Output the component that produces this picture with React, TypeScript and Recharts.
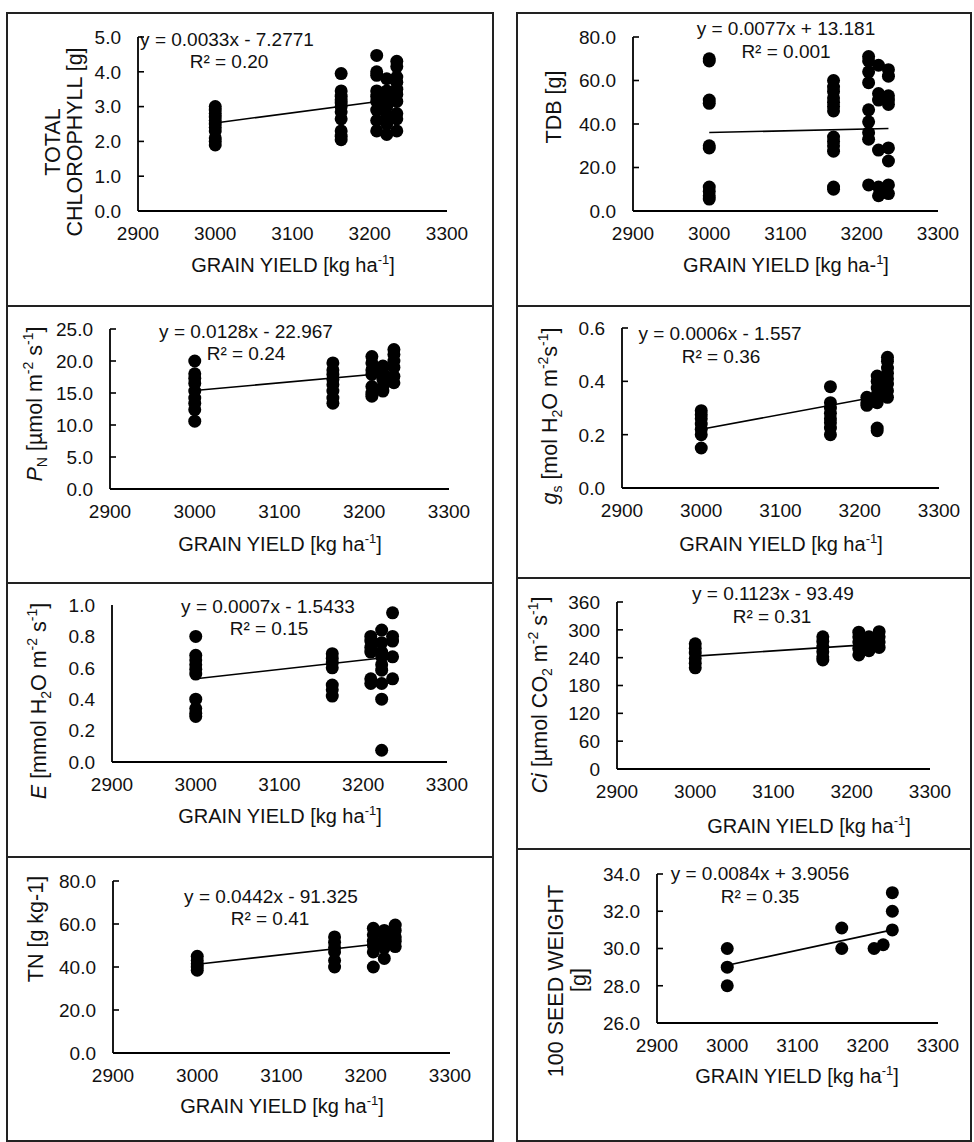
import React from 'react';
import { ScatterChart, Scatter, XAxis, YAxis, Customized } from 'recharts';

const FONT = "'Liberation Sans', Arial, Helvetica, sans-serif";
const INK = '#111';

// grain yield levels [kg ha-1] shared by every panel
const yieldLevels = [3000, 3163, 3209, 3222, 3235];
const xTicks = [2900, 3000, 3100, 3200, 3300];
const trendX = [3000, 3235];

// one list of readings per yield level
const chlorophyll = [
  [3.0, 2.9, 2.8, 2.7, 2.6, 2.5, 2.4, 2.3, 2.1, 2.0, 1.9],
  [3.95, 3.45, 3.3, 3.2, 3.1, 3.0, 2.85, 2.65, 2.3, 2.15, 2.05],
  [4.47, 4.0, 3.9, 3.45, 3.3, 3.15, 2.9, 2.6, 2.3],
  [3.8, 3.45, 3.2, 3.0, 2.75, 2.5, 2.2],
  [4.3, 4.15, 3.85, 3.7, 3.5, 3.35, 3.15, 2.8, 2.65, 2.3],
];
const chlorophyllTrend = [2.53, 3.22];
const chlorophyllTicks = [0, 1, 2, 3, 4, 5];

const tdb = [
  [70, 69, 51, 49.5, 30, 29, 11, 9, 7, 5.5],
  [60, 57, 55, 52, 50, 48, 46, 34, 32, 30, 27.5, 11, 10],
  [71, 69, 64, 59, 46.5, 41, 36, 33, 12],
  [67, 54, 51, 28, 11, 7],
  [65, 62, 53, 51, 49, 29, 23, 12, 8],
];
const tdbTrend = [36.1, 37.9];
const tdbTicks = [0, 20, 40, 60, 80];

const pn = [
  [20, 18, 17.3, 16.5, 15.3, 14.2, 13.4, 12.4, 10.6],
  [19.7, 18.6, 17.9, 17.1, 16.3, 15.3, 14.2, 13.4],
  [20.7, 19.7, 18.6, 17.9, 16, 15, 14.5],
  [19.2, 18.1, 17.1, 16, 15.3],
  [21.8, 21, 20, 19, 17.6, 16.6],
];
const pnTrend = [15.4, 18.2];
const pnTicks = [0, 5, 10, 15, 20, 25];

const gs = [
  [0.29, 0.275, 0.26, 0.24, 0.22, 0.2, 0.15],
  [0.38, 0.32, 0.3, 0.28, 0.26, 0.245, 0.225, 0.2],
  [0.34, 0.32, 0.31],
  [0.42, 0.4, 0.375, 0.35, 0.32, 0.225, 0.215],
  [0.49, 0.475, 0.45, 0.43, 0.41, 0.39, 0.365, 0.34],
];
const gsTrend = [0.22, 0.35];
const gsTicks = [0, 0.2, 0.4, 0.6];

const transp = [
  [0.8, 0.68, 0.65, 0.62, 0.59, 0.56, 0.4, 0.34, 0.31, 0.29],
  [0.69, 0.66, 0.63, 0.6, 0.49, 0.46, 0.42],
  [0.8, 0.77, 0.73, 0.7, 0.53, 0.5],
  [0.84, 0.76, 0.7, 0.67, 0.62, 0.585, 0.5, 0.4, 0.075],
  [0.95, 0.8, 0.77, 0.67, 0.53],
];
const transpTrend = [0.53, 0.67];
const transpTicks = [0, 0.2, 0.4, 0.6, 0.8, 1.0];

const ci = [
  [270, 260, 250, 238, 228, 218],
  [285, 275, 263, 253, 242, 235],
  [295, 285, 274, 260, 246],
  [285, 275, 265, 255],
  [296, 285, 274, 262],
];
const ciTrend = [243.4, 269.8];
const ciTicks = [0, 60, 120, 180, 240, 300, 360];

const tn = [
  [45, 43, 41.5, 40, 38.5],
  [54, 51.5, 49, 47, 43, 40],
  [58, 55, 52, 50, 47, 40],
  [57, 55, 52, 49, 44],
  [59.5, 57, 54, 52, 49.5],
];
const tnTrend = [41.3, 51.6];
const tnTicks = [0, 20, 40, 60, 80];

const seed = [[30, 29, 28], [31.1, 30], [30], [30.2], [33, 32, 31]];
const seedTrend = [29.1, 31.0];
const seedTicks = [26, 28, 30, 32, 34];

const toPoints = (values: number[][]) =>
  yieldLevels.flatMap((x, i) => values[i].map((y) => ({ x, y })));
const toTrend = (ends: number[]) => trendX.map((x, i) => ({ x, y: ends[i] }));

const Y_W = 40;
const X_H = 30;
const Y_MARGIN = 17;

const RotText = ({ x, y, size = 21.5, children }: any) => (
  <text
    transform={`translate(${x},${y}) rotate(-90)`}
    textAnchor="middle"
    fontSize={size}
    fill={INK}
    fontFamily={FONT}
    style={{ whiteSpace: 'pre' }}
  >
    {children}
  </text>
);

const GrainTitle = ({ x, y, hyphen }: any) => (
  <text x={x} y={y} textAnchor="middle" fontSize={20} fill={INK} fontFamily={FONT} style={{ whiteSpace: 'pre' }}>
    {hyphen ? 'GRAIN YIELD [kg ha-' : 'GRAIN YIELD [kg ha'}
    <tspan fontSize={13} dy={-8}>{hyphen ? '1' : '-1'}</tspan>
    <tspan dy={8}>]</tspan>
  </text>
);

const sub = (t: string) => [
  <tspan key={t + 'a'} fontSize={14} dy={5}>{t}</tspan>,
];

const panels = [
  {
    key: 'chl', box: [6, 12, 488, 293], axisX: 138, plotRight: 447, plotTop: 37, axisY: 211,
    values: chlorophyll, trend: chlorophyllTrend, ticks: chlorophyllTicks, decimals: 1, inner: true,
    eq: 'y = 0.0033x - 7.2771', r2: 'R² = 0.20', eqAt: [227, 46], r2At: [229, 68],
    xTitle: <GrainTitle x={293} y={272} />,
    yTitle: (
      <>
        <RotText x={60} y={142}>TOTAL</RotText>
        <RotText x={82} y={142}>CHLOROPHYLL [g]</RotText>
      </>
    ),
  },
  {
    key: 'tdb', box: [516, 12, 456, 293], axisX: 633, plotRight: 938, plotTop: 37, axisY: 211,
    values: tdb, trend: tdbTrend, ticks: tdbTicks, decimals: 1, inner: true,
    eq: 'y = 0.0077x + 13.181', r2: 'R² = 0.001', eqAt: [786, 35], r2At: [786, 58],
    xTitle: <GrainTitle x={786} y={272} hyphen />,
    yTitle: <RotText x={561} y={107}>TDB [g]</RotText>,
  },
  {
    key: 'pn', box: [6, 305, 488, 277], axisX: 110, plotRight: 449, plotTop: 329, axisY: 489,
    values: pn, trend: pnTrend, ticks: pnTicks, decimals: 1, inner: true,
    eq: 'y = 0.0128x - 22.967', r2: 'R² = 0.24', eqAt: [246, 338], r2At: [246, 360],
    xTitle: <GrainTitle x={280} y={551} />,
    yTitle: (
      <RotText x={42} y={404}>
        <tspan fontStyle="italic">P</tspan>
        {sub('N')}
        <tspan dy={-5}>{' [µmol m'}</tspan>
        <tspan fontSize={14} dy={-9}>-2</tspan>
        <tspan dy={9}>{' s'}</tspan>
        <tspan fontSize={14} dy={-9}>-1</tspan>
        <tspan dy={9}>]</tspan>
      </RotText>
    ),
  },
  {
    key: 'gs', box: [516, 305, 456, 272], axisX: 622, plotRight: 939, plotTop: 328, axisY: 488,
    values: gs, trend: gsTrend, ticks: gsTicks, decimals: 1, inner: true,
    eq: 'y = 0.0006x - 1.557', r2: 'R² = 0.36', eqAt: [720, 340], r2At: [721, 363],
    xTitle: <GrainTitle x={781} y={551} />,
    yTitle: (
      <RotText x={557} y={416}>
        <tspan fontStyle="italic">g</tspan>
        {sub('s')}
        <tspan dy={-5}>{' [mol H'}</tspan>
        <tspan fontSize={14} dy={5}>2</tspan>
        <tspan dy={-5}>{'O m'}</tspan>
        <tspan fontSize={14} dy={-9}>-2</tspan>
        <tspan dy={9}>s</tspan>
        <tspan fontSize={14} dy={-9}>-1</tspan>
        <tspan dy={9}>]</tspan>
      </RotText>
    ),
  },
  {
    key: 'e', box: [6, 582, 488, 274], axisX: 112, plotRight: 447, plotTop: 605, axisY: 762,
    values: transp, trend: transpTrend, ticks: transpTicks, decimals: 1, inner: false,
    eq: 'y = 0.0007x - 1.5433', r2: 'R² = 0.15', eqAt: [268, 613], r2At: [269, 635],
    xTitle: <GrainTitle x={280} y={823} />,
    yTitle: (
      <RotText x={46} y={701}>
        <tspan fontStyle="italic">E</tspan>
        <tspan>{' [mmol H'}</tspan>
        <tspan fontSize={14} dy={5}>2</tspan>
        <tspan dy={-5}>{'O m'}</tspan>
        <tspan fontSize={14} dy={-9}>-2</tspan>
        <tspan dy={9}>{' s'}</tspan>
        <tspan fontSize={14} dy={-9}>-1</tspan>
        <tspan dy={9}>]</tspan>
      </RotText>
    ),
  },
  {
    key: 'ci', box: [516, 577, 456, 271], axisX: 617, plotRight: 930, plotTop: 602, axisY: 769,
    values: ci, trend: ciTrend, ticks: ciTicks, decimals: 0, inner: true,
    eq: 'y = 0.1123x - 93.49', r2: 'R² = 0.31', eqAt: [773, 600], r2At: [772, 623],
    xTitle: <GrainTitle x={809} y={833} />,
    yTitle: (
      <RotText x={547} y={695}>
        <tspan fontStyle="italic">Ci</tspan>
        <tspan>{' [µmol CO'}</tspan>
        <tspan fontSize={14} dy={5}>2</tspan>
        <tspan dy={-5}>{' m'}</tspan>
        <tspan fontSize={14} dy={-9}>-2</tspan>
        <tspan dy={9}>{' s'}</tspan>
        <tspan fontSize={14} dy={-9}>-1</tspan>
        <tspan dy={9}>]</tspan>
      </RotText>
    ),
  },
  {
    key: 'tn', box: [6, 856, 488, 284], axisX: 113, plotRight: 450, plotTop: 881, axisY: 1053,
    values: tn, trend: tnTrend, ticks: tnTicks, decimals: 1, inner: true,
    eq: 'y = 0.0442x - 91.325', r2: 'R² = 0.41', eqAt: [271, 903], r2At: [270, 925],
    xTitle: <GrainTitle x={282} y={1113} />,
    yTitle: <RotText x={43} y={929}>TN [g kg-1]</RotText>,
  },
  {
    key: 'seed', box: [516, 848, 456, 292], axisX: 657, plotRight: 938, plotTop: 874, axisY: 1023,
    values: seed, trend: seedTrend, ticks: seedTicks, decimals: 1, inner: true,
    eq: 'y = 0.0084x + 3.9056', r2: 'R² = 0.35', eqAt: [760, 880], r2At: [760, 903],
    xTitle: <GrainTitle x={797} y={1083} />,
    yTitle: (
      <>
        <RotText x={563} y={981}>100 SEED WEIGHT</RotText>
        <RotText x={586} y={980}>[g]</RotText>
      </>
    ),
  },
];

const makeYTick = (decimals: number, inner: boolean) => (props: any) => {
  const { x, y, payload } = props;
  const ax = x + Y_MARGIN;
  return (
    <g>
      {inner && <line x1={ax} x2={ax + 6} y1={y} y2={y} stroke="#000" strokeWidth={1.6} />}
      <text x={x} y={y} dy="0.36em" textAnchor="end" fontSize={19} fill={INK} fontFamily={FONT}>
        {Number(payload.value).toFixed(decimals)}
      </text>
    </g>
  );
};

const XTick = (props: any) => {
  const { x, y, payload } = props;
  return (
    <text x={x} y={y} dy="0.71em" textAnchor="middle" fontSize={19} fill={INK} fontFamily={FONT}>
      {payload.value}
    </text>
  );
};

const Panel = ({ p }: any) => {
  const [bx, by, bw, bh] = p.box;
  const margin = {
    top: p.plotTop - by,
    left: p.axisX - bx - Y_W,
    right: bx + bw - p.plotRight,
    bottom: by + bh - p.axisY - X_H,
  };
  const yMin = p.ticks[0];
  const yMax = p.ticks[p.ticks.length - 1];
  const Texts = () => (
    <g transform={`translate(${-bx},${-by})`}>
      <text x={p.eqAt[0]} y={p.eqAt[1]} textAnchor="middle" fontSize={19} fill={INK} fontFamily={FONT}>
        {p.eq}
      </text>
      <text x={p.r2At[0]} y={p.r2At[1]} textAnchor="middle" fontSize={19} fill={INK} fontFamily={FONT}>
        {p.r2}
      </text>
      {p.xTitle}
      {p.yTitle}
    </g>
  );
  return (
    <div style={{ position: 'absolute', left: bx, top: by, width: bw, height: bh }}>
      <ScatterChart width={bw} height={bh} margin={margin}>
        <XAxis
          type="number"
          dataKey="x"
          domain={[2900, 3300]}
          ticks={xTicks}
          interval={0}
          allowDataOverflow
          height={X_H}
          tickLine={false}
          tickSize={0}
          tickMargin={16}
          axisLine={{ stroke: '#000', strokeWidth: 1.8 }}
          tick={XTick}
        />
        <YAxis
          type="number"
          dataKey="y"
          domain={[yMin, yMax]}
          ticks={p.ticks}
          interval={0}
          allowDataOverflow
          width={Y_W}
          tickLine={false}
          tickSize={0}
          tickMargin={Y_MARGIN}
          axisLine={{ stroke: '#000', strokeWidth: 1.8 }}
          tick={makeYTick(p.decimals, p.inner)}
        />
        <Scatter
          data={toPoints(p.values)}
          fill="#000"
          isAnimationActive={false}
          shape={(s: any) => <circle cx={s.cx} cy={s.cy} r={6.5} fill="#000" />}
        />
        <Scatter
          data={toTrend(p.trend)}
          line={{ stroke: '#000', strokeWidth: 1.6 }}
          isAnimationActive={false}
          shape={() => <g />}
        />
        <Customized component={<Texts />} />
      </ScatterChart>
    </div>
  );
};

const Box = ({ box }: any) => {
  const [bx, by, bw, bh] = box;
  return (
    <div
      style={{
        position: 'absolute',
        left: bx,
        top: by,
        width: bw,
        height: bh + 2,
        boxSizing: 'border-box',
        border: '2px solid #222',
      }}
    />
  );
};

const App = () => (
  <div style={{ position: 'absolute', left: 0, top: 0, width: 974, height: 1142, background: '#fff', overflow: 'hidden' }}>
    {panels.map((p) => (
      <Box key={'b' + p.key} box={p.box} />
    ))}
    {panels.map((p) => (
      <Panel key={p.key} p={p} />
    ))}
  </div>
);

export default App;
